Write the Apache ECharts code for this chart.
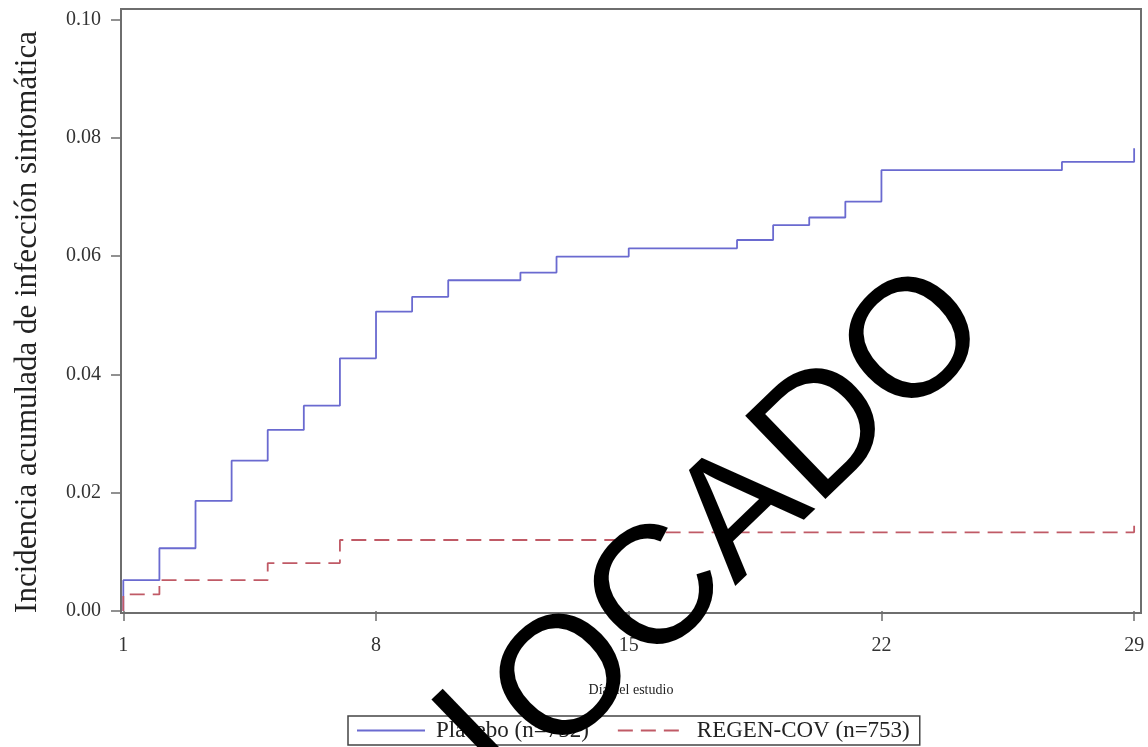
<!DOCTYPE html>
<html>
<head>
<meta charset="utf-8">
<script src="https://cdn.jsdelivr.net/npm/echarts@6/dist/echarts.min.js"></script>
<style>
html,body{margin:0;padding:0;background:#fff;}
#chart{width:1148px;height:747px;}
</style>
</head>
<body>
<div id="chart"></div>
<script>
// Study day at which each step happens, and cumulative incidence after it
const placeboDays   = [1, 1, 2, 3, 4, 5, 6, 7, 8, 9, 10, 12, 13, 15, 18, 19, 20, 21, 22, 27, 29];
const placeboValues = [0, 0.0052, 0.0106, 0.0186, 0.0254, 0.0306, 0.0347, 0.0427, 0.0506, 0.0531, 0.0559, 0.0572, 0.0599, 0.0613, 0.0627, 0.0652, 0.0665, 0.0692, 0.0745, 0.0759, 0.0782];
const regenDays     = [1, 1, 2, 5, 7, 15, 29];
const regenValues   = [0, 0.0028, 0.0052, 0.0081, 0.0120, 0.0133, 0.0148];
const xTicks = [1, 8, 15, 22, 29];
const yTicks = [0, 0.02, 0.04, 0.06, 0.08, 0.10];
const seriesNames = ['Placebo (n=752)', 'REGEN-COV (n=753)'];
const xTitle = 'Día del estudio';
const yTitle = 'Incidencia acumulada de infección sintomática';
const watermarkParts = ['I', 'OCADO'];

const zip = (a, b) => a.map((v, i) => [v, b[i]]);

const chart = echarts.init(document.getElementById('chart'), null, {renderer: 'canvas'});
const serif = 'Liberation Serif';
const wmRot = 44 * Math.PI / 180;
const wmStyle = (t) => ({text: t, font: '168px "Liberation Sans"', fill: '#000', align: 'center', verticalAlign: 'middle'});
chart.setOption({
  animation: false,
  backgroundColor: '#fff',
  grid: {
    left: 121, right: 7, top: 9, bottom: 134,
    containLabel: false, outerBoundsMode: 'none',
    show: true, borderColor: '#6e6e6e', borderWidth: 2
  },
  xAxis: {
    type: 'value', min: 0.936, max: 29.19,
    name: xTitle, nameLocation: 'middle', nameGap: 70,
    nameTextStyle: {fontFamily: serif, fontSize: 14, color: '#222'},
    axisLine: {show: false},
    splitLine: {show: false},
    axisTick: {show: true, length: 10, customValues: xTicks, lineStyle: {color: '#6e6e6e', width: 1.5}},
    axisLabel: {customValues: xTicks, fontFamily: serif, fontSize: 20, color: '#333', margin: 23}
  },
  yAxis: {
    type: 'value', min: -0.00034, max: 0.10174,
    name: yTitle, nameLocation: 'middle', nameGap: 78, nameRotate: 90,
    nameTextStyle: {fontFamily: serif, fontSize: 31, color: '#222', padding: [0, 22, 0, 0]},
    axisLine: {show: false},
    splitLine: {show: false},
    axisTick: {show: true, length: 10, customValues: yTicks, lineStyle: {color: '#6e6e6e', width: 1.5}},
    axisLabel: {customValues: yTicks, fontFamily: serif, fontSize: 20, color: '#333', margin: 20,
      formatter: v => v.toFixed(2)}
  },
  legend: {
    left: 348, top: 716,
    orient: 'horizontal',
    itemWidth: 68, itemHeight: 14, itemGap: 28,
    padding: [3, 10, 3, 8],
    borderColor: '#444', borderWidth: 1.5,
    itemStyle: {opacity: 0},
    textStyle: {fontFamily: serif, fontSize: 23, color: '#222', padding: [0, 0, 0, 6]},
    data: seriesNames
  },
  series: [
    {
      name: seriesNames[0], type: 'line', step: 'end', symbol: 'none',
      data: zip(placeboDays, placeboValues),
      lineStyle: {color: '#6a6ad0', width: 1.8},
      itemStyle: {color: '#6a6ad0'}
    },
    {
      name: seriesNames[1], type: 'line', step: 'end', symbol: 'none',
      data: zip(regenDays, regenValues),
      lineStyle: {color: '#c05a66', width: 1.8, type: [15, 8]},
      itemStyle: {color: '#c05a66'}
    }
  ],
  graphic: [
    {type: 'text', z: 100, x: 485, y: 744, rotation: wmRot, style: wmStyle(watermarkParts[0])},
    {type: 'text', z: 100, x: 743, y: 514, rotation: wmRot, style: wmStyle(watermarkParts[1])}
  ]
});
</script>
</body>
</html>
